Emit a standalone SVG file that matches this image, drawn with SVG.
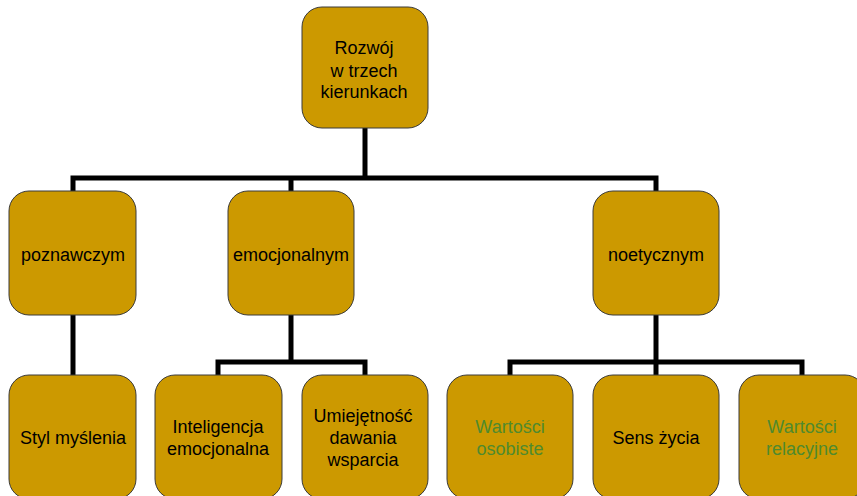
<svg xmlns="http://www.w3.org/2000/svg" width="857" height="496" viewBox="0 0 857 496">
<style>
.box{fill:#CC9900;stroke:#3a3a3a;stroke-width:1}
.t{font-family:"Liberation Sans",Arial,sans-serif;font-size:18px;fill:#000;text-anchor:middle}
.g{fill:#4F8A2E}
.c{fill:none;stroke:#000;stroke-width:5;stroke-linejoin:miter}
</style>
<rect width="857" height="496" fill="#fff"/>
<g id="connectors">
<polyline class="c" points="365,128 365,178"/>
<polyline class="c" points="73,191 73,178 656,178 656,191"/>
<polyline class="c" points="291,178 291,191"/>
<polyline class="c" points="73,315 73,375"/>
<polyline class="c" points="291,315 291,362"/>
<polyline class="c" points="218,375 218,362 365,362 365,375"/>
<polyline class="c" points="656,315 656,375"/>
<polyline class="c" points="510,375 510,362 802,362 802,375"/>
</g>
<g id="root">
<rect class="box" x="302" y="7" width="126" height="121" rx="20"/>
<text class="t" x="364" y="54">Rozwój</text>
<text class="t" x="364" y="77">w trzech</text>
<text class="t" x="364" y="98">kierunkach</text>
</g>
<g id="poznawczym">
<rect class="box" x="9" y="191" width="127" height="124" rx="20"/>
<text class="t" x="73" y="261">poznawczym</text>
</g>
<g id="emocjonalnym">
<rect class="box" x="228" y="191" width="126" height="124" rx="20"/>
<text class="t" x="291" y="261">emocjonalnym</text>
</g>
<g id="noetycznym">
<rect class="box" x="593" y="191" width="126" height="124" rx="20"/>
<text class="t" x="656" y="261">noetycznym</text>
</g>
<g id="styl">
<rect class="box" x="9" y="375" width="127" height="124" rx="20"/>
<text class="t" x="73" y="444">Styl myślenia</text>
</g>
<g id="inteligencja">
<rect class="box" x="155" y="375" width="127" height="124" rx="20"/>
<text class="t" x="218" y="433">Inteligencja</text>
<text class="t" x="218" y="455">emocjonalna</text>
</g>
<g id="umiejetnosc">
<rect class="box" x="302" y="375" width="126" height="124" rx="20"/>
<text class="t" x="363" y="422">Umiejętność</text>
<text class="t" x="363" y="444">dawania</text>
<text class="t" x="363" y="466">wsparcia</text>
</g>
<g id="osobiste">
<rect class="box" x="447" y="375" width="126" height="124" rx="20"/>
<text class="t g" x="510" y="433">Wartości</text>
<text class="t g" x="510" y="455">osobiste</text>
</g>
<g id="sens">
<rect class="box" x="593" y="375" width="126" height="124" rx="20"/>
<text class="t" x="656" y="444">Sens życia</text>
</g>
<g id="relacyjne">
<rect class="box" x="739" y="375" width="126" height="124" rx="20"/>
<text class="t g" x="802" y="433">Wartości</text>
<text class="t g" x="802" y="455">relacyjne</text>
</g>
</svg>
